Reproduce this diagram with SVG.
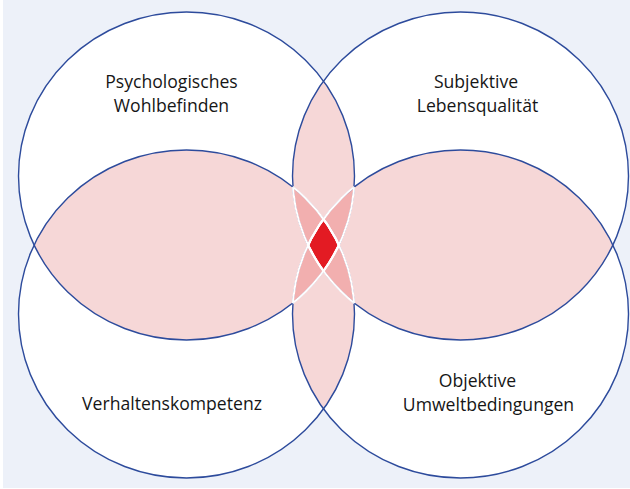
<svg xmlns="http://www.w3.org/2000/svg" xmlns:xlink="http://www.w3.org/1999/xlink" width="630" height="489" viewBox="0 0 630 489">
  <style>
    .base { fill: #ffffff; stroke: none; }
    .p2 { fill: #f6d7d7; stroke: none; }
    .p3 { fill: #f2afaf; stroke: none; }
    .p4 { fill: #e31b23; stroke: none; }
    .outline { fill: none; stroke: #2d4b9c; stroke-width: 1.4; }
    .inner { fill: none; stroke: #ffffff; stroke-width: 2; }
    .label { font-family: "Open Sans", "Liberation Sans", sans-serif; font-size: 17.6px; fill: #161616; text-anchor: middle; }
  </style>
  <defs>
    <ellipse id="eA" cx="186.5" cy="176" rx="168" ry="164"/>
    <ellipse id="eB" cx="460.5" cy="176" rx="168" ry="164"/>
    <ellipse id="eC" cx="186.5" cy="314" rx="168" ry="164"/>
    <ellipse id="eD" cx="460.5" cy="314" rx="168" ry="164"/>
    <clipPath id="cA"><ellipse cx="186.5" cy="176" rx="168" ry="164"/></clipPath>
    <clipPath id="cB"><ellipse cx="460.5" cy="176" rx="168" ry="164"/></clipPath>
    <clipPath id="cC"><ellipse cx="186.5" cy="314" rx="168" ry="164"/></clipPath>
    <clipPath id="cD"><ellipse cx="460.5" cy="314" rx="168" ry="164"/></clipPath>
  </defs>

  <rect x="3" y="0" width="627" height="488" fill="#edf1f9"/>

  <g id="fills">
    <use xlink:href="#eA" class="base"/>
    <use xlink:href="#eB" class="base"/>
    <use xlink:href="#eC" class="base"/>
    <use xlink:href="#eD" class="base"/>
  </g>

  <g id="overlaps">
    <g clip-path="url(#cB)"><use xlink:href="#eA" class="p2"/></g>
    <g clip-path="url(#cC)"><use xlink:href="#eA" class="p2"/></g>
    <g clip-path="url(#cD)"><use xlink:href="#eA" class="p2"/></g>
    <g clip-path="url(#cC)"><use xlink:href="#eB" class="p2"/></g>
    <g clip-path="url(#cD)"><use xlink:href="#eB" class="p2"/></g>
    <g clip-path="url(#cD)"><use xlink:href="#eC" class="p2"/></g>

    <g clip-path="url(#cB)"><g clip-path="url(#cC)"><use xlink:href="#eA" class="p3"/></g></g>
    <g clip-path="url(#cB)"><g clip-path="url(#cD)"><use xlink:href="#eA" class="p3"/></g></g>
    <g clip-path="url(#cC)"><g clip-path="url(#cD)"><use xlink:href="#eA" class="p3"/></g></g>
    <g clip-path="url(#cC)"><g clip-path="url(#cD)"><use xlink:href="#eB" class="p3"/></g></g>

    <g clip-path="url(#cB)"><g clip-path="url(#cC)"><g clip-path="url(#cD)"><use xlink:href="#eA" class="p4"/></g></g></g>
  </g>

  <g id="node-psychologisches-wohlbefinden">
    <use xlink:href="#eA" class="outline"/>
    <text class="label" x="171.5" y="88">Psychologisches</text>
    <text class="label" x="171.5" y="112">Wohlbefinden</text>
  </g>
  <g id="node-subjektive-lebensqualitaet">
    <use xlink:href="#eB" class="outline"/>
    <text class="label" x="476" y="88">Subjektive</text>
    <text class="label" x="477.5" y="112">Lebensqualität</text>
  </g>
  <g id="node-verhaltenskompetenz">
    <use xlink:href="#eC" class="outline"/>
    <text class="label" x="172" y="410">Verhaltenskompetenz</text>
  </g>
  <g id="node-objektive-umweltbedingungen">
    <use xlink:href="#eD" class="outline"/>
    <text class="label" x="477.5" y="387">Objektive</text>
    <text class="label" x="488.5" y="411">Umweltbedingungen</text>
  </g>

  <g id="connectors">
    <g clip-path="url(#cB)"><g clip-path="url(#cC)"><use xlink:href="#eA" class="inner"/></g></g>
    <g clip-path="url(#cB)"><g clip-path="url(#cD)"><use xlink:href="#eA" class="inner"/></g></g>
    <g clip-path="url(#cC)"><g clip-path="url(#cD)"><use xlink:href="#eA" class="inner"/></g></g>
    <g clip-path="url(#cA)"><g clip-path="url(#cC)"><use xlink:href="#eB" class="inner"/></g></g>
    <g clip-path="url(#cA)"><g clip-path="url(#cD)"><use xlink:href="#eB" class="inner"/></g></g>
    <g clip-path="url(#cC)"><g clip-path="url(#cD)"><use xlink:href="#eB" class="inner"/></g></g>
    <g clip-path="url(#cA)"><g clip-path="url(#cB)"><use xlink:href="#eC" class="inner"/></g></g>
    <g clip-path="url(#cA)"><g clip-path="url(#cD)"><use xlink:href="#eC" class="inner"/></g></g>
    <g clip-path="url(#cB)"><g clip-path="url(#cD)"><use xlink:href="#eC" class="inner"/></g></g>
    <g clip-path="url(#cA)"><g clip-path="url(#cB)"><use xlink:href="#eD" class="inner"/></g></g>
    <g clip-path="url(#cA)"><g clip-path="url(#cC)"><use xlink:href="#eD" class="inner"/></g></g>
    <g clip-path="url(#cB)"><g clip-path="url(#cC)"><use xlink:href="#eD" class="inner"/></g></g>
  </g>
</svg>
